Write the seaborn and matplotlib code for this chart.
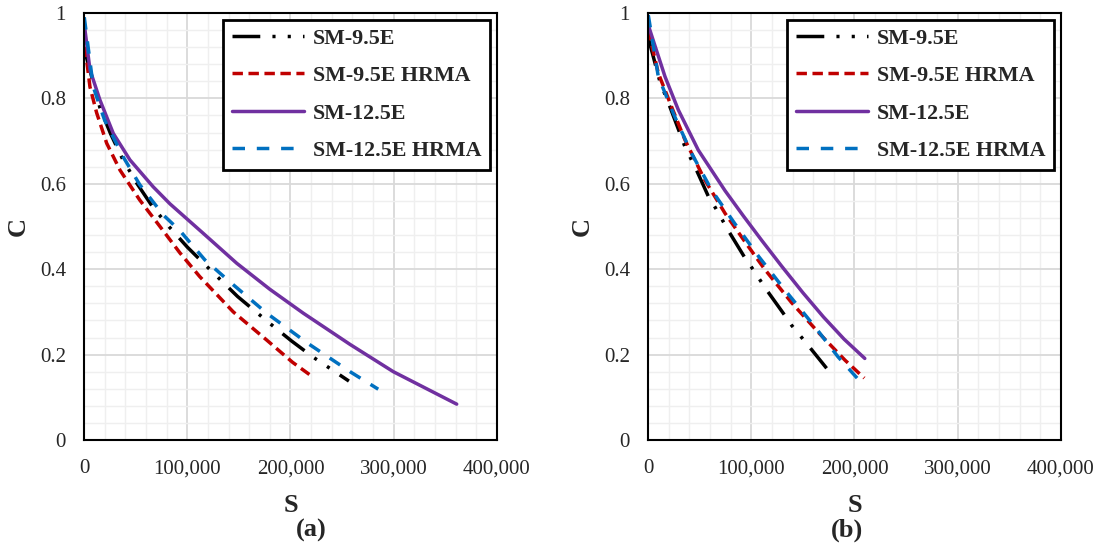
import pandas as pd
import seaborn as sns
import matplotlib
matplotlib.use("Agg")
import matplotlib.pyplot as plt
from matplotlib.ticker import MultipleLocator, FuncFormatter

# series names, in legend order
mixes = ["SM-9.5E", "SM-9.5E HRMA", "SM-12.5E", "SM-12.5E HRMA"]

# panel (a): damage curves
a_95_s = [1000, 15500, 25800, 37000, 50400, 66500, 82600, 100000, 120000, 148800, 180000, 201000, 222000, 256600]
a_95_c = [0.909, 0.778, 0.717, 0.660, 0.604, 0.546, 0.499, 0.452, 0.404, 0.336, 0.273, 0.232, 0.194, 0.138]
a_95h_s = [1000, 5800, 12300, 22000, 34900, 54000, 73600, 93000, 112000, 144600, 177000, 202000, 222000]
a_95h_c = [0.921, 0.827, 0.766, 0.695, 0.632, 0.562, 0.500, 0.438, 0.383, 0.300, 0.234, 0.182, 0.147]
a_125_s = [500, 5800, 15500, 28400, 44500, 67000, 83300, 115500, 147900, 180000, 212400, 257600, 299600, 361000]
a_125_c = [0.970, 0.867, 0.796, 0.718, 0.656, 0.593, 0.553, 0.484, 0.414, 0.353, 0.297, 0.224, 0.160, 0.084]
a_125h_s = [300, 9000, 20000, 38000, 54000, 76800, 93000, 117000, 140000, 177000, 217000, 259000, 285000]
a_125h_c = [0.990, 0.827, 0.749, 0.663, 0.598, 0.527, 0.490, 0.422, 0.373, 0.297, 0.226, 0.158, 0.119]

# panel (b)
b_95_s = [500, 11600, 21300, 35800, 47000, 58400, 65500, 78400, 93300, 101000, 115000, 131000, 139000, 155000, 173000]
b_95_c = [0.940, 0.839, 0.780, 0.687, 0.632, 0.571, 0.543, 0.488, 0.429, 0.402, 0.351, 0.297, 0.269, 0.222, 0.168]
b_95h_s = [300, 10000, 22900, 35800, 55000, 74600, 94000, 113000, 139000, 165000, 190800, 209500]
b_95h_c = [0.960, 0.859, 0.780, 0.703, 0.609, 0.531, 0.464, 0.400, 0.322, 0.252, 0.187, 0.145]
b_125_s = [500, 16500, 29400, 48700, 74600, 92300, 110000, 129500, 150000, 170000, 190000, 210000]
b_125_c = [0.970, 0.851, 0.773, 0.679, 0.584, 0.525, 0.468, 0.407, 0.345, 0.288, 0.236, 0.191]
b_125h_s = [300, 10000, 26000, 42300, 61700, 84000, 106800, 132700, 161700, 184000, 208500]
b_125h_c = [0.995, 0.851, 0.757, 0.671, 0.585, 0.507, 0.431, 0.351, 0.265, 0.195, 0.129]

x_ticks = [0, 100000, 200000, 300000, 400000]
y_ticks = [0, 0.2, 0.4, 0.6, 0.8, 1.0]

palette = {
    "SM-9.5E": "#000000",
    "SM-9.5E HRMA": "#C00000",
    "SM-12.5E": "#7030A0",
    "SM-12.5E HRMA": "#0070C0",
}
dash_map = {
    "SM-9.5E": (8, 3.5, 0.9, 3.5, 0.9, 3.5),
    "SM-9.5E HRMA": (3, 1.6),
    "SM-12.5E": "",
    "SM-12.5E HRMA": (3.6, 3.4),
}


def to_long(series):
    frames = []
    for name, s, c in series:
        frames.append(pd.DataFrame({"S": s, "C": c, "mix": name}))
    return pd.concat(frames, ignore_index=True)


def draw_panel(ax, df, tag, tag_x):
    sns.lineplot(data=df, x="S", y="C", hue="mix", style="mix", hue_order=mixes,
                 style_order=mixes, palette=palette, dashes=dash_map, lw=2.5,
                 sort=False, estimator=None, ax=ax)
    ax.set_xlim(0, 400000)
    ax.set_ylim(0, 1)
    ax.set_xticks(x_ticks)
    ax.set_yticks(y_ticks)
    ax.xaxis.set_minor_locator(MultipleLocator(20000))
    ax.yaxis.set_minor_locator(MultipleLocator(0.04))
    ax.xaxis.set_major_formatter(FuncFormatter(lambda v, p: f"{v:,.0f}"))
    ax.yaxis.set_major_formatter(FuncFormatter(lambda v, p: f"{v:g}"))
    ax.grid(which="major", color="#D9D9D9", lw=1.3)
    ax.grid(which="minor", color="#EFEFEF", lw=1.0)
    ax.set_axisbelow(True)
    ax.tick_params(which="both", length=0, labelsize=15)
    ax.tick_params(axis="x", pad=14)
    ax.tick_params(axis="y", pad=13)
    for sp in ax.spines.values():
        sp.set_visible(True)
        sp.set_color("black")
        sp.set_linewidth(1.5)
    ax.set_xlabel("S", fontsize=19, fontweight="bold", labelpad=11)
    ax.set_ylabel("C", fontsize=19, fontweight="bold", labelpad=7)

    handles, labels = ax.get_legend_handles_labels()
    leg = ax.legend(handles, labels, loc="upper right", fancybox=False,
                    framealpha=1, edgecolor="black", borderpad=0.4,
                    labelspacing=0.78, handlelength=3.3, handletextpad=0.4,
                    borderaxespad=0.3, prop={"size": 15.8, "weight": "bold"})
    leg.get_frame().set_linewidth(2)

    ax.figure.text(tag_x, 0.036, tag, ha="center", va="center",
                   fontsize=19, fontweight="bold")


sns.set_theme(style="white")
plt.rcParams["font.family"] = ["Liberation Serif", "DejaVu Serif"]

fig = plt.figure(figsize=(10.99, 5.5), dpi=100)
ax_a = fig.add_axes([0.0764, 0.2, 0.3758, 0.7764])
ax_b = fig.add_axes([0.5896, 0.2, 0.3758, 0.7764])

df_a = to_long([
    (mixes[0], a_95_s, a_95_c),
    (mixes[1], a_95h_s, a_95h_c),
    (mixes[2], a_125_s, a_125_c),
    (mixes[3], a_125h_s, a_125h_c),
])
df_b = to_long([
    (mixes[0], b_95_s, b_95_c),
    (mixes[1], b_95h_s, b_95h_c),
    (mixes[2], b_125_s, b_125_c),
    (mixes[3], b_125h_s, b_125h_c),
])

draw_panel(ax_a, df_a, "(a)", 0.283)
draw_panel(ax_b, df_b, "(b)", 0.771)

fig.savefig("out.png", dpi=100)
